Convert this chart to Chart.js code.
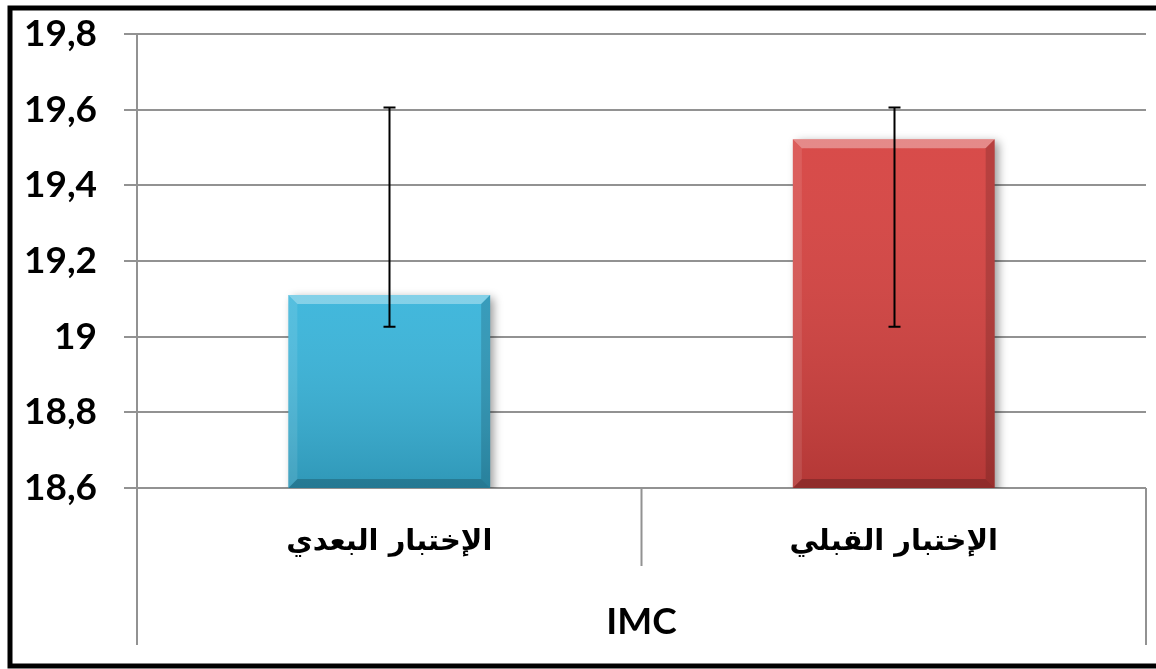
<!DOCTYPE html>
<html>
<head>
<meta charset="utf-8">
<script src="https://cdn.jsdelivr.net/npm/chart.js@4"></script>
<style>
  html, body { margin: 0; padding: 0; background: #fff; }
  #wrap { width: 1156px; height: 669px; }
</style>
</head>
<body>
<div id="wrap"><canvas id="imcChart" width="1156" height="669"></canvas></div>
<script>
// data
const categories = ['الإختبار البعدي', 'الإختبار القبلي'];
const means = [19.11, 19.522];
const errLow = [19.026, 19.026];
const errHigh = [19.606, 19.606];
const yTicks = [18.6, 18.8, 19, 19.2, 19.4, 19.6, 19.8];
const groupLabel = 'IMC';
const barColors = ['#38b4da', '#d64240'];

const gridColor = '#929292';

const fmt = v => String(+v.toFixed(1)).replace('.', ',');

// white background + black frame
const framePlugin = {
  id: 'frame',
  beforeDraw(chart) {
    const c = chart.ctx;
    c.save();
    c.fillStyle = '#fff';
    c.fillRect(0, 0, chart.width, chart.height);
    c.restore();
  },
  afterDraw(chart) {
    const c = chart.ctx;
    c.save();
    c.strokeStyle = '#000';
    c.lineWidth = 5;
    c.strokeRect(10, 8, chart.width + 10, 658);
    c.restore();
  }
};

// category dividers under the axis and the group label
const axisPlugin = {
  id: 'axisDividers',
  afterDraw(chart) {
    const c = chart.ctx;
    const a = chart.chartArea;
    const mid = (a.left + a.right) / 2;
    c.save();
    c.strokeStyle = gridColor;
    c.lineWidth = 2;
    c.beginPath();
    c.moveTo(a.left, a.top); c.lineTo(a.left, 645);
    c.moveTo(mid, a.bottom); c.lineTo(mid, 566);
    c.moveTo(a.right, a.bottom); c.lineTo(a.right, 645);
    c.stroke();
    c.fillStyle = '#000';
    c.font = 'bold 37px Lato';
    c.textAlign = 'center';
    c.textBaseline = 'middle';
    c.fillText(groupLabel, mid, 622);
    c.restore();
  }
};

// shadow + bevel look on the bars
const bevelPlugin = {
  id: 'bevel',
  beforeDatasetDraw(chart) {
    const c = chart.ctx;
    c.save();
    c.shadowColor = 'rgba(0,0,0,0.4)';
    c.shadowBlur = 9;
    c.shadowOffsetX = 4;
    c.shadowOffsetY = 3;
  },
  afterDatasetDraw(chart, args) {
    const c = chart.ctx;
    c.restore();
    const a = chart.chartArea;
    args.meta.data.forEach(bar => {
      const l = bar.x - bar.width / 2, r = bar.x + bar.width / 2;
      const t = bar.y, b = Math.min(bar.base, a.bottom);
      const e = 9;
      c.save();
      const g = c.createLinearGradient(0, t, 0, b);
      g.addColorStop(0, 'rgba(255,255,255,0.05)');
      g.addColorStop(1, 'rgba(0,0,0,0.16)');
      c.fillStyle = g;
      c.fillRect(l, t, r - l, b - t);
      // top edge
      c.fillStyle = 'rgba(255,255,255,0.35)';
      c.beginPath();
      c.moveTo(l, t); c.lineTo(r, t); c.lineTo(r - e, t + e); c.lineTo(l + e, t + e);
      c.closePath(); c.fill();
      // left edge
      c.fillStyle = 'rgba(255,255,255,0.1)';
      c.beginPath();
      c.moveTo(l, t); c.lineTo(l + e, t + e); c.lineTo(l + e, b - e); c.lineTo(l, b);
      c.closePath(); c.fill();
      // right edge
      c.fillStyle = 'rgba(0,0,0,0.15)';
      c.beginPath();
      c.moveTo(r, t); c.lineTo(r - e, t + e); c.lineTo(r - e, b - e); c.lineTo(r, b);
      c.closePath(); c.fill();
      // bottom edge
      c.fillStyle = 'rgba(0,0,0,0.2)';
      c.beginPath();
      c.moveTo(l, b); c.lineTo(l + e, b - e); c.lineTo(r - e, b - e); c.lineTo(r, b);
      c.closePath(); c.fill();
      c.restore();
    });
  }
};

// error bars
const errorPlugin = {
  id: 'errorBars',
  afterDatasetsDraw(chart) {
    const c = chart.ctx;
    const y = chart.scales.y;
    const meta = chart.getDatasetMeta(0);
    c.save();
    c.strokeStyle = '#000';
    c.lineWidth = 2;
    meta.data.forEach((bar, i) => {
      const x = Math.round(bar.x) + 0.5;
      const yl = y.getPixelForValue(errLow[i]);
      const yh = y.getPixelForValue(errHigh[i]);
      c.beginPath();
      c.moveTo(x, yh); c.lineTo(x, yl);
      c.moveTo(x - 6, yh); c.lineTo(x + 6, yh);
      c.moveTo(x - 6, yl); c.lineTo(x + 6, yl);
      c.stroke();
    });
    c.restore();
  }
};

new Chart(document.getElementById('imcChart'), {
  type: 'bar',
  data: {
    labels: categories,
    datasets: [{
      data: means,
      backgroundColor: barColors,
      borderWidth: 0,
      barPercentage: 0.4,
      categoryPercentage: 1
    }]
  },
  options: {
    responsive: false,
    animation: false,
    events: [],
    layout: { padding: { top: 34, right: 10, left: 0, bottom: 0 } },
    plugins: {
      legend: { display: false },
      tooltip: { enabled: false }
    },
    scales: {
      x: {
        grid: { display: false },
        border: { display: false },
        ticks: {
          color: '#000',
          padding: 29,
          font: { family: 'DejaVu Sans', weight: 'bold', size: 29 }
        },
        afterFit: s => { s.height = 181; }
      },
      y: {
        min: 18.6,
        max: 19.8,
        afterBuildTicks: s => { s.ticks = yTicks.map(v => ({ value: v })); },
        grid: { color: gridColor, lineWidth: 2, tickLength: 13 },
        border: { display: false },
        ticks: {
          color: '#000',
          padding: 27,
          font: { family: 'Lato', weight: 'bold', size: 37 },
          callback: v => fmt(v)
        },
        afterFit: s => { s.width = 137; s.paddingTop = 0; s.paddingBottom = 0; }
      }
    }
  },
  plugins: [framePlugin, bevelPlugin, errorPlugin, axisPlugin]
});
</script>
</body>
</html>
